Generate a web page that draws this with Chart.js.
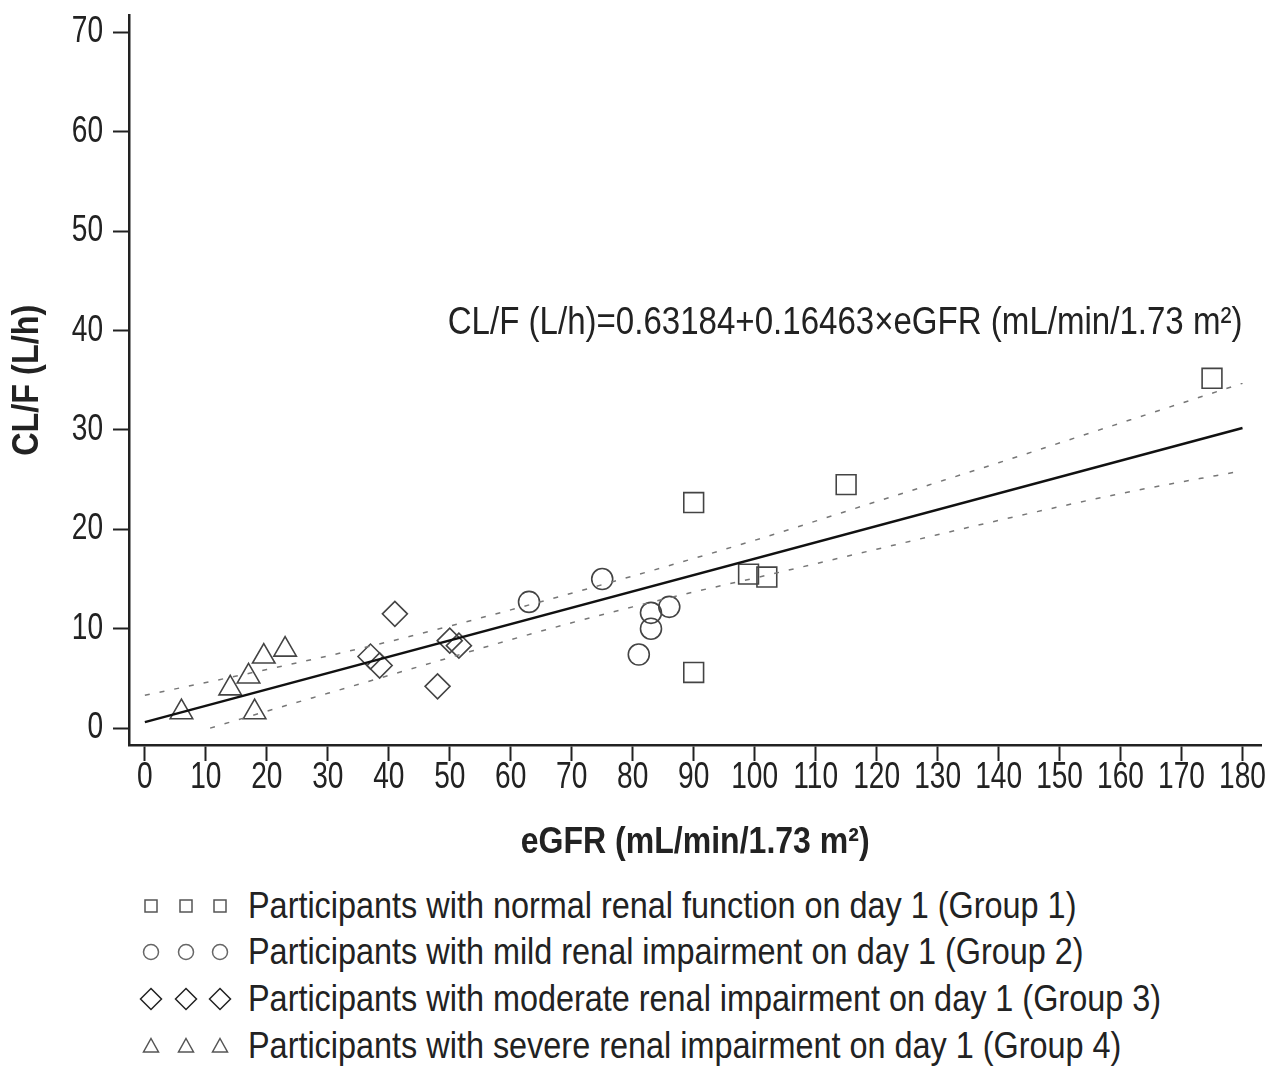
<!DOCTYPE html>
<html>
<head>
<meta charset="utf-8">
<script src="https://cdn.jsdelivr.net/npm/chart.js@4.4.1/dist/chart.umd.min.js"></script>
<style>
    html, body { margin: 0; padding: 0; background: #fff; }
    body { width: 1277px; height: 1071px; overflow: hidden; font-family: "Liberation Sans", Arial, sans-serif; color: #222; position: relative; }
    #wrap { position: absolute; left: 0; top: 0; width: 1277px; height: 872px; }
    .icon { position: absolute; }
    .txt { position: absolute; height: 46px; line-height: 46px; font-size: 36px; white-space: nowrap; transform: scaleX(0.9); transform-origin: 0 50%; }
</style>
</head>
<body>
<div id="wrap"><canvas id="chart" width="1277" height="872"></canvas></div>
<div id="legend"></div>
<script>
const FONT = '"Liberation Sans", Arial, sans-serif';

// tick labels
const xTicks = [0, 10, 20, 30, 40, 50, 60, 70, 80, 90, 100, 110, 120, 130, 140, 150, 160, 170, 180];
const yTicks = [0, 10, 20, 30, 40, 50, 60, 70];

// Group 1 - normal renal function (squares)
const group1X = [175, 115, 90, 99, 102, 90];
const group1Y = [35.2, 24.5, 22.7, 15.5, 15.2, 5.6];
// Group 2 - mild impairment (circles)
const group2X = [63, 75, 81, 83, 83, 86];
const group2Y = [12.7, 15.0, 7.4, 10.0, 11.6, 12.2];
// Group 3 - moderate impairment (diamonds)
const group3X = [37, 38.5, 41, 48, 50, 51.5];
const group3Y = [7.2, 6.3, 11.5, 4.2, 8.8, 8.3];
// Group 4 - severe impairment (triangles)
const group4X = [6, 14, 17, 19.5, 23, 18];
const group4Y = [1.6, 4.0, 5.2, 7.2, 7.9, 1.6];

// regression line end points
const fitX = [0, 180];
const fitY = [0.6, 30.2];

// dashed bands
const upperX = [0, 20, 40, 60, 80, 100, 120, 140, 160, 180];
const upperY = [3.3, 5.9, 8.7, 11.9, 15.3, 18.9, 22.8, 26.7, 30.7, 34.7];
const lowerX = [10.7, 20, 30, 40, 50, 60, 70, 80, 90, 100, 120, 140, 160, 180];
const lowerY = [0, 1.7, 3.5, 5.3, 7.1, 8.9, 10.6, 12.2, 13.7, 15.1, 18.0, 20.9, 23.6, 25.9];

const eqText = 'CL/F (L/h)=0.63184+0.16463\u00d7eGFR (mL/min/1.73 m\u00b2)';
const xTitle = 'eGFR (mL/min/1.73 m\u00b2)';
const yTitle = 'CL/F (L/h)';

const legendLabels = [
    'Participants with normal renal function on day 1 (Group 1)',
    'Participants with mild renal impairment on day 1 (Group 2)',
    'Participants with moderate renal impairment on day 1 (Group 3)',
    'Participants with severe renal impairment on day 1 (Group 4)'
];

function pts(xs, ys) {
    return xs.map((x, i) => ({ x: x, y: ys[i] }));
}

function markerSet(label, xs, ys, style, radius) {
    return {
        label: label,
        data: pts(xs, ys),
        pointStyle: style,
        pointRadius: radius,
        pointBorderColor: '#444',
        pointBackgroundColor: 'rgba(0,0,0,0)',
        pointBorderWidth: 1.6,
        showLine: false
    };
}

function lineSet(xs, ys, color, width, dash) {
    return {
        data: pts(xs, ys),
        showLine: true,
        borderColor: color,
        borderWidth: width,
        borderDash: dash,
        pointRadius: 0,
        cubicInterpolationMode: 'monotone',
        fill: false
    };
}

// narrow text: the figure uses a condensed face we do not have
function drawText(ctx, text, x, y, font, sx, align, rotate) {
    ctx.save();
    ctx.translate(x, y);
    if (rotate) ctx.rotate(-Math.PI / 2);
    ctx.scale(sx, 1);
    ctx.font = font;
    ctx.fillStyle = '#222';
    ctx.textAlign = align;
    ctx.textBaseline = 'middle';
    ctx.fillText(text, 0, 0);
    ctx.restore();
}

const textPlugin = {
    id: 'narrowText',
    afterDraw(chart) {
        const { ctx, chartArea, scales: { x, y } } = chart;
        const tickFont = '36px ' + FONT;
        xTicks.forEach(v => {
            drawText(ctx, String(v), x.getPixelForValue(v), chartArea.bottom + 33, tickFont, 0.78, 'center');
        });
        yTicks.forEach(v => {
            drawText(ctx, String(v), chartArea.left - 26, y.getPixelForValue(v), tickFont, 0.78, 'right');
        });
        drawText(ctx, xTitle, (chartArea.left + chartArea.right) / 2, 843, 'bold 36px ' + FONT, 0.89, 'center');
        drawText(ctx, yTitle, 28, (chartArea.top + chartArea.bottom) / 2, 'bold 36px ' + FONT, 0.9, 'center', true);
        drawText(ctx, eqText, x.getPixelForValue(180), y.getPixelForValue(40.7), '38px ' + FONT, 0.87, 'right');
    }
};

const ctx = document.getElementById('chart');

new Chart(ctx, {
    type: 'scatter',
    data: {
        datasets: [
            lineSet(upperX, upperY, '#777', 1.5, [5, 10]),
            lineSet(lowerX, lowerY, '#777', 1.5, [5, 10]),
            lineSet(fitX, fitY, '#111', 2.5, []),
            markerSet('Group 1', group1X, group1Y, 'rect', 14),
            markerSet('Group 2', group2X, group2Y, 'circle', 10.5),
            markerSet('Group 3', group3X, group3Y, 'rectRot', 12.5),
            markerSet('Group 4', group4X, group4Y, 'triangle', 13)
        ]
    },
    options: {
        responsive: false,
        animation: false,
        layout: { padding: { left: 0, right: 15, top: 15, bottom: 10 } },
        plugins: {
            legend: { display: false },
            tooltip: { enabled: false }
        },
        scales: {
            x: {
                type: 'linear',
                min: -2.6,
                max: 183.1,
                afterBuildTicks: s => { s.ticks = xTicks.map(v => ({ value: v })); },
                afterFit: s => { s.height = 117; },
                ticks: { display: false },
                grid: { drawOnChartArea: false, drawTicks: true, tickLength: 16, tickWidth: 2, color: '#222' },
                border: { display: true, color: '#222', width: 2.5 }
            },
            y: {
                type: 'linear',
                min: -1.7,
                max: 71.7,
                afterBuildTicks: s => { s.ticks = yTicks.map(v => ({ value: v })); },
                afterFit: s => { s.width = 129; },
                ticks: { display: false },
                grid: { drawOnChartArea: false, drawTicks: true, tickLength: 16, tickWidth: 2, color: '#222' },
                border: { display: true, color: '#222', width: 2.5 }
            }
        }
    },
    plugins: [textPlugin]
});

// legend below the plot, three symbols per row as in the figure
const shapes = [
    '<rect x="-6" y="-6" width="12" height="12"/>',
    '<circle r="7.5"/>',
    '<polygon points="0,-10.5 10.5,0 0,10.5 -10.5,0"/>',
    '<polygon points="0,-7.5 7.5,6 -7.5,6"/>'
];
const shapeColors = ['#555', '#666', '#222', '#555'];
const rowCenters = [903, 949, 996, 1043];
const iconX = [151, 186, 220];
const legend = document.getElementById('legend');
legendLabels.forEach((text, i) => {
    iconX.forEach(cx => {
        const el = document.createElement('div');
        el.className = 'icon';
        el.style.left = (cx - 12) + 'px';
        el.style.top = (rowCenters[i] - 9) + 'px';
        el.innerHTML = '<svg width="24" height="24" viewBox="-12 -12 24 24"><g fill="none" stroke="' +
            shapeColors[i] + '" stroke-width="1.5">' + shapes[i] + '</g></svg>';
        legend.appendChild(el);
    });
    const t = document.createElement('div');
    t.className = 'txt';
    t.style.left = '248px';
    t.style.top = (rowCenters[i] - 20) + 'px';
    t.textContent = text;
    legend.appendChild(t);
});
</script>
</body>
</html>
